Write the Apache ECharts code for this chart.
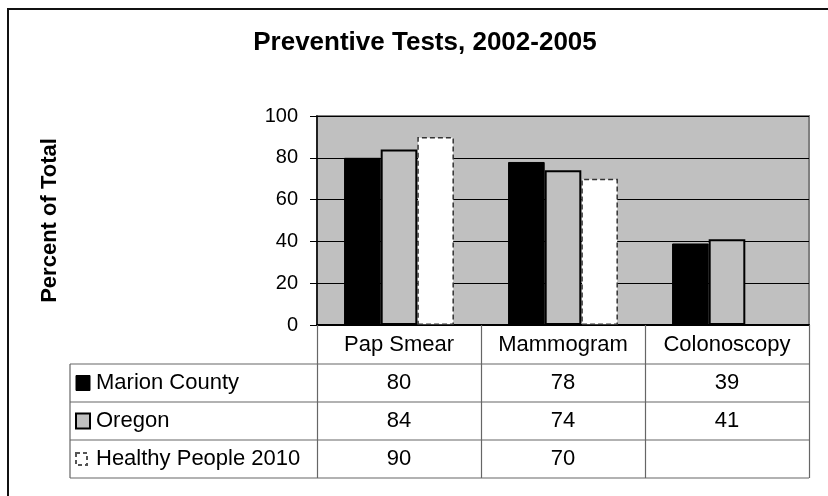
<!DOCTYPE html>
<html>
<head>
<meta charset="utf-8">
<title>Preventive Tests, 2002-2005</title>
<script src="https://cdn.jsdelivr.net/npm/echarts@6/dist/echarts.min.js"></script>
<style>
    html, body { margin: 0; padding: 0; background: #fff; }
    #chart { width: 828px; height: 496px; }
</style>
</head>
<body>
<div id="chart"></div>
<script>
// data
const categories = ['Pap Smear', 'Mammogram', 'Colonoscopy'];
const seriesNames = ['Marion County', 'Oregon', 'Healthy People 2010'];
const marionCounty = [80, 78, 39];
const oregon = [84, 74, 41];
const healthyPeople2010 = [90, 70, null];
const yTicks = [0, 20, 40, 60, 80, 100];

const FONT = 'Liberation Sans, Arial, sans-serif';

// plot area (pixels)
const gridLeft = 317, gridTop = 116, gridWidth = 492, gridHeight = 209;
const axisY = gridTop + gridHeight;       // y of the 0 line
const tableLeft = 70;
const rowH = 38;                           // height of a data table row
const headRow = 39;                        // height of the category row
const tableBottom = axisY + headRow + rowH * 3;

const rows = [marionCounty, oregon, healthyPeople2010];

// bar styles per series
const styles = [
    { color: '#000000', borderColor: '#000000', borderWidth: 1 },
    { color: '#c0c0c0', borderColor: '#000000', borderWidth: 2 },
    { color: '#ffffff', borderColor: '#333333', borderWidth: 1.5, borderType: [5, 3] }
];

const chart = echarts.init(document.getElementById('chart'), null, { renderer: 'canvas' });

// extra x axes that print the data table values under each category
const tableAxes = rows.map((row, i) => ({
    type: 'category',
    gridIndex: 0,
    position: 'bottom',
    data: row.map(v => (v == null ? '' : String(v))),
    offset: headRow + rowH * i + rowH / 2,
    axisLine: { show: false },
    axisTick: { show: false },
    splitLine: { show: false },
    axisLabel: { interval: 0, margin: 0, verticalAlign: 'middle', fontSize: 22, color: '#000', fontFamily: FONT }
}));

// table lines + row headers
const graphics = [];
// outer chart border
graphics.push({
    type: 'rect', shape: { x: 8, y: 9, width: 900, height: 600 },
    style: { fill: null, stroke: '#111', lineWidth: 2 }, silent: true
});
for (let i = 0; i <= 3; i++) {
    const y = axisY + headRow + rowH * i;
    graphics.push({
        type: 'line',
        shape: { x1: tableLeft, y1: y, x2: gridLeft + gridWidth, y2: y },
        style: { stroke: '#666', lineWidth: 1.2 }, silent: true
    });
}
graphics.push({
    type: 'line',
    shape: { x1: tableLeft, y1: axisY + headRow, x2: tableLeft, y2: tableBottom },
    style: { stroke: '#666', lineWidth: 1.2 }, silent: true
});
seriesNames.forEach((name, i) => {
    const cy = axisY + headRow + rowH * i + rowH / 2;
    const s = styles[i];
    const size = i === 2 ? 12 : 15;
    graphics.push({
        type: 'rect',
        shape: { x: 76, y: cy - size / 2, width: size - 1, height: size },
        style: {
            fill: s.color,
            stroke: i === 2 ? '#555' : '#000',
            lineWidth: i === 0 ? 1 : 2,
            lineDash: i === 2 ? [4, 3] : null
        },
        silent: true
    });
    graphics.push({
        type: 'text',
        style: {
            x: 96, y: cy, text: name, fill: '#000',
            font: '22px ' + FONT, textVerticalAlign: 'middle', textAlign: 'left'
        },
        silent: true
    });
});

const option = {
    backgroundColor: '#ffffff',
    animation: false,
    textStyle: { fontFamily: FONT },
    title: {
        text: 'Preventive Tests, 2002-2005',
        left: 420,
        textAlign: 'center',
        top: 25,
        textStyle: { fontSize: 26, fontWeight: 'bold', color: '#000', fontFamily: FONT }
    },
    grid: {
        left: gridLeft, top: gridTop, width: gridWidth, height: gridHeight,
        show: true, backgroundColor: '#c0c0c0', borderColor: '#808080', borderWidth: 2,
        containLabel: false, outerBoundsMode: 'none'
    },
    xAxis: [{
        type: 'category',
        data: categories,
        position: 'bottom',
        axisLine: { show: true, lineStyle: { color: '#000', width: 2 } },
        axisTick: {
            show: true, inside: false, alignWithLabel: false, interval: 0,
            length: tableBottom - axisY,
            lineStyle: { color: '#666', width: 1.2 }
        },
        axisLabel: { interval: 0, margin: headRow / 2, verticalAlign: 'middle', fontSize: 22, color: '#000', fontFamily: FONT },
        splitLine: { show: false }
    }].concat(tableAxes),
    yAxis: {
        type: 'value',
        min: yTicks[0],
        max: yTicks[yTicks.length - 1],
        interval: yTicks[1] - yTicks[0],
        name: 'Percent of Total',
        nameLocation: 'middle',
        nameGap: 256,
        nameTextStyle: { fontSize: 22, fontWeight: 'bold', color: '#000', fontFamily: FONT },
        axisLine: { show: true, lineStyle: { color: '#000', width: 1.5 } },
        axisTick: { show: true, inside: false, length: 7, lineStyle: { color: '#000', width: 1 } },
        axisLabel: { margin: 19, fontSize: 20, color: '#000', fontFamily: FONT },
        splitLine: { show: true, lineStyle: { color: '#000', width: 1 } }
    },
    series: seriesNames.map((name, i) => ({
        name: name,
        type: 'bar',
        data: rows[i],
        xAxisIndex: 0,
        barGap: '0%',
        barCategoryGap: '33%',
        itemStyle: styles[i]
    })),
    graphic: graphics
};

chart.setOption(option);
</script>
</body>
</html>
